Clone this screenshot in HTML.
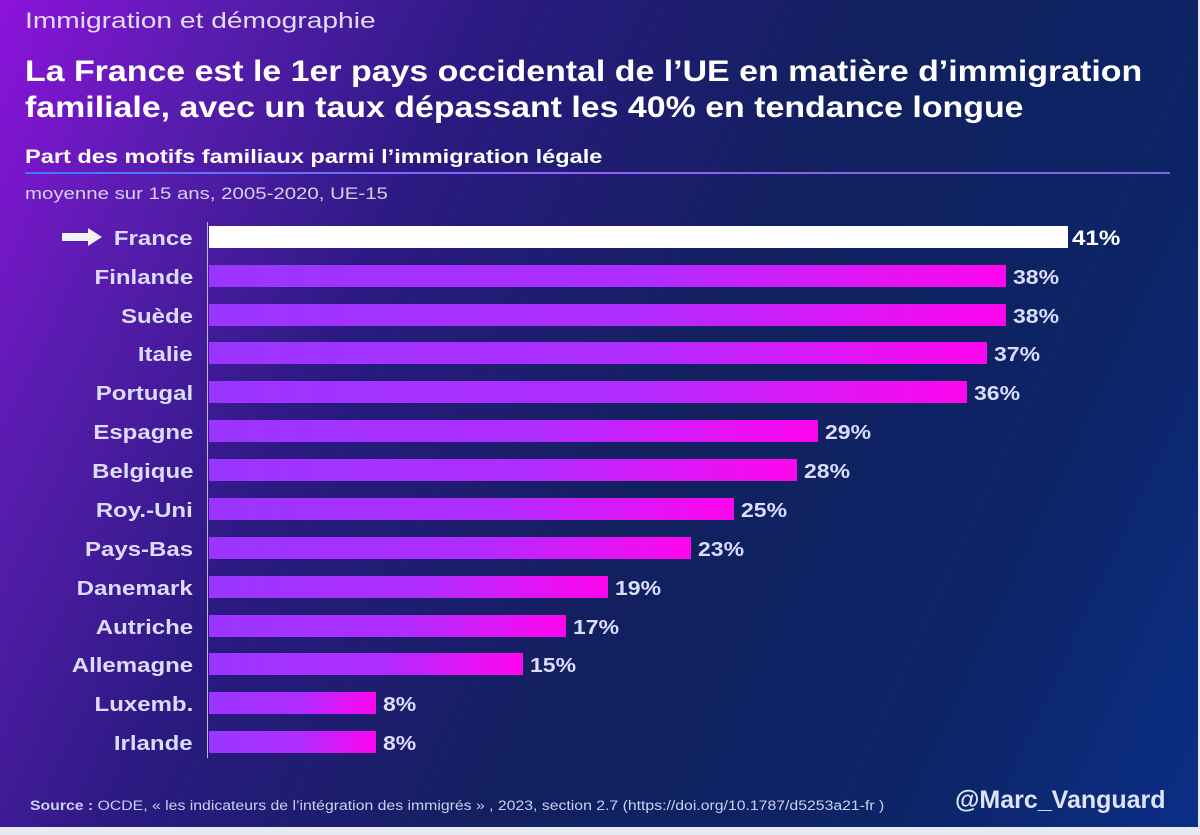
<!DOCTYPE html>
<html><head><meta charset="utf-8"><style>
*{margin:0;padding:0;box-sizing:border-box}
body{width:1200px;height:835px;overflow:hidden;font-family:"Liberation Sans",sans-serif;background:#e8eaf2}
#bg{position:absolute;left:0;top:0;width:1198px;height:827px;background:linear-gradient(115deg,#8d12dc 0%,#5a1cb0 14%,#2a1a80 32%,#12205f 55%,#0c2466 80%,#0b2e86 100%);}
.t{position:absolute;white-space:nowrap;transform-origin:left center}
.lab{position:absolute;right:1007px;font-weight:bold;font-size:20px;color:#dcdcff;line-height:22px;margin-top:2px;transform:scaleX(1.2);transform-origin:right center;white-space:nowrap}
.bar{position:absolute;left:209px;height:22px;background:linear-gradient(90deg,#9a35ff,#b02cff 55%,#ff05ee)}
.val{position:absolute;font-weight:bold;font-size:20px;color:#dcdcff;line-height:22px;margin-top:2px;margin-left:2px;transform:scaleX(1.15);transform-origin:left center}
</style></head><body>
<div id="bg"></div>
<div class="t" style="left:25px;top:8px;font-size:22px;color:#e2dcf5;transform:scaleX(1.28)">Immigration et démographie</div>
<div class="t" style="left:25px;top:54px;font-size:30px;font-weight:bold;color:#fff;line-height:36px;transform:scaleX(1.13)">La France est le 1er pays occidental de l’UE en matière d’immigration<br>familiale, avec un taux dépassant les 40% en tendance longue</div>
<div class="t" style="left:25px;top:147px;font-size:19px;font-weight:bold;color:#fff;transform:scaleX(1.24)">Part des motifs familiaux parmi l’immigration légale</div>
<div style="position:absolute;left:25px;top:172px;width:1145px;height:2px;background:linear-gradient(90deg,#3b7cff,#9a5cff 50%,#7a6ad0)"></div>
<div class="t" style="left:25px;top:184px;font-size:17px;color:#d6d2ee;transform:scaleX(1.2)">moyenne sur 15 ans, 2005-2020, UE-15</div>
<div style="position:absolute;left:207px;top:222px;width:1px;height:536px;background:#b8b8e0"></div>
<svg style="position:absolute;left:62px;top:228px" width="42" height="18"><polygon points="0,5 26,5 26,0 40,9 26,18 26,13 0,13" fill="#f2f2f2"/></svg>
<div class="lab" style="top:226px">France</div><div class="bar" style="top:226px;width:859px;background:#fff"></div><div class="val" style="top:226px;left:1070px;color:#fff;font-size:21px">41%</div>
<div class="lab" style="top:265px">Finlande</div><div class="bar" style="top:265px;width:797px"></div><div class="val" style="top:265px;left:1011px">38%</div>
<div class="lab" style="top:304px">Suède</div><div class="bar" style="top:304px;width:797px"></div><div class="val" style="top:304px;left:1011px">38%</div>
<div class="lab" style="top:342px">Italie</div><div class="bar" style="top:342px;width:778px"></div><div class="val" style="top:342px;left:992px">37%</div>
<div class="lab" style="top:381px">Portugal</div><div class="bar" style="top:381px;width:758px"></div><div class="val" style="top:381px;left:972px">36%</div>
<div class="lab" style="top:420px">Espagne</div><div class="bar" style="top:420px;width:609px"></div><div class="val" style="top:420px;left:823px">29%</div>
<div class="lab" style="top:459px">Belgique</div><div class="bar" style="top:459px;width:588px"></div><div class="val" style="top:459px;left:802px">28%</div>
<div class="lab" style="top:498px">Roy.-Uni</div><div class="bar" style="top:498px;width:525px"></div><div class="val" style="top:498px;left:739px">25%</div>
<div class="lab" style="top:537px">Pays-Bas</div><div class="bar" style="top:537px;width:482px"></div><div class="val" style="top:537px;left:696px">23%</div>
<div class="lab" style="top:576px">Danemark</div><div class="bar" style="top:576px;width:399px"></div><div class="val" style="top:576px;left:613px">19%</div>
<div class="lab" style="top:615px">Autriche</div><div class="bar" style="top:615px;width:357px"></div><div class="val" style="top:615px;left:571px">17%</div>
<div class="lab" style="top:653px">Allemagne</div><div class="bar" style="top:653px;width:314px"></div><div class="val" style="top:653px;left:528px">15%</div>
<div class="lab" style="top:692px">Luxemb.</div><div class="bar" style="top:692px;width:167px"></div><div class="val" style="top:692px;left:381px">8%</div>
<div class="lab" style="top:731px">Irlande</div><div class="bar" style="top:731px;width:167px"></div><div class="val" style="top:731px;left:381px">8%</div>
<div class="t" style="left:30px;top:798px;font-size:13.5px;color:#c9d0f2;transform:scaleX(1.17)"><b>Source :</b> OCDE, « les indicateurs de l’intégration des immigrés » , 2023, section 2.7 (https://doi.org/10.1787/d5253a21-fr )</div>
<div class="t" style="left:955px;top:786px;font-size:25px;font-weight:bold;color:#dfe3f5">@Marc_Vanguard</div>
</body></html>
